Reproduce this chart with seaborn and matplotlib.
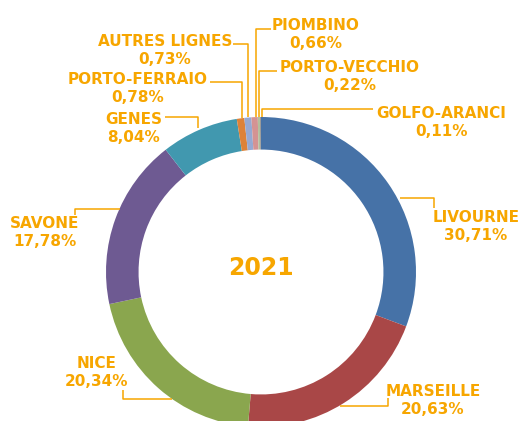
import matplotlib
matplotlib.use("Agg")
import matplotlib.pyplot as plt
import seaborn as sns

# data, clockwise from 12 o'clock
ports = ['LIVOURNE', 'MARSEILLE', 'NICE', 'SAVONE', 'GENES', 'PORTO-FERRAIO',
         'AUTRES LIGNES', 'PIOMBINO', 'PORTO-VECCHIO', 'GOLFO-ARANCI']
shares = [30.71, 20.63, 20.34, 17.78, 8.04, 0.78, 0.73, 0.66, 0.22, 0.11]
year = '2021'

colors = ['#4672a7', '#a94747', '#8aa64e', '#6e5a92', '#4198af', '#dd8238',
          '#96a9d2', '#d49393', '#b3bf9c', '#9a9a9a']
label_color = '#f7a600'

W, H = 522, 421
CX, CY, R = 261, 272, 155

# label centre (px) and leader polyline (px), top-left origin
label_pos = {
    'LIVOURNE': (476, 226), 'MARSEILLE': (433, 400), 'NICE': (97, 372),
    'SAVONE': (45, 232), 'GENES': (134, 129), 'PORTO-FERRAIO': (138, 89),
    'AUTRES LIGNES': (165, 50), 'PIOMBINO': (316, 34), 'PORTO-VECCHIO': (350, 77),
    'GOLFO-ARANCI': (441, 123),
}
leaders = {
    'LIVOURNE': [(400, 198), (434, 198), (434, 208)],
    'MARSEILLE': [(340, 406), (388, 406), (388, 398)],
    'NICE': [(172, 399), (123, 399), (123, 390)],
    'SAVONE': [(120, 209), (75, 209), (75, 215)],
    'GENES': [(198, 128), (198, 117), (165, 117)],
    'PORTO-FERRAIO': [(242, 118), (242, 82), (210, 82)],
    'AUTRES LIGNES': [(248, 117), (248, 44), (233, 44)],
    'PIOMBINO': [(256, 117), (256, 29), (271, 29)],
    'PORTO-VECCHIO': [(259, 117), (259, 71), (277, 71)],
    'GOLFO-ARANCI': [(262, 117), (262, 109), (373, 109)],
}

sns.set_theme(style="white")
plt.rcParams['font.family'] = ['DejaVu Sans']

fig = plt.figure(figsize=(W / 100, H / 100), dpi=100)
ax = fig.add_axes([0, 0, 1, 1])

ax.pie(shares, colors=colors, startangle=90, counterclock=False,
       center=(CX, H - CY), radius=R,
       wedgeprops=dict(width=0.21 * R, edgecolor='none'))

ax.set_xlim(0, W)
ax.set_ylim(0, H)
ax.set_aspect('equal')
ax.axis('off')

for name, val in zip(ports, shares):
    pts = leaders[name]
    ax.plot([p[0] for p in pts], [H - p[1] for p in pts],
            color=label_color, lw=1.1, solid_capstyle='butt')
    x, y = label_pos[name]
    txt = name + '\n' + f'{val:.2f}'.replace('.', ',') + '%'
    ax.text(x, H - y, txt, ha='center', va='center', fontsize=11,
            fontweight='bold', color=label_color, linespacing=1.25)

ax.text(CX, H - 268, year, ha='center', va='center', fontsize=17,
        fontweight='bold', color=label_color)

fig.savefig('out.png', dpi=100)
